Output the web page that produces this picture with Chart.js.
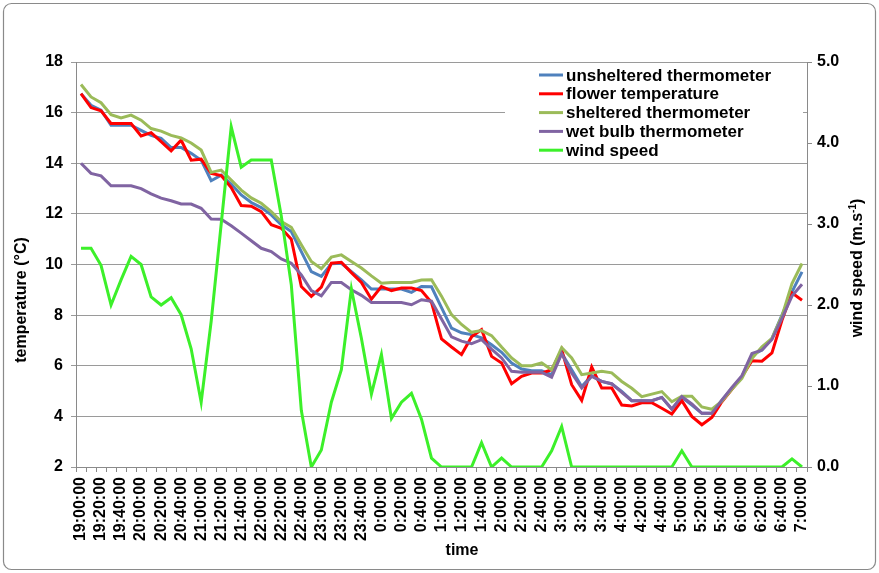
<!DOCTYPE html>
<html><head><meta charset="utf-8">
<script src="https://cdn.jsdelivr.net/npm/chart.js@4.4.1/dist/chart.umd.min.js"></script>
<style>html,body{margin:0;padding:0;background:#fff}#wrap{width:879px;height:573px;position:relative}</style>
</head><body><div id="wrap"><canvas id="c" width="879" height="573"></canvas></div>
<script>
const timeLabels = [
"19:00:00","19:10:00","19:20:00","19:30:00","19:40:00","19:50:00",
"20:00:00","20:10:00","20:20:00","20:30:00","20:40:00","20:50:00",
"21:00:00","21:10:00","21:20:00","21:30:00","21:40:00","21:50:00",
"22:00:00","22:10:00","22:20:00","22:30:00","22:40:00","22:50:00",
"23:00:00","23:10:00","23:20:00","23:30:00","23:40:00","23:50:00",
"0:00:00","0:10:00","0:20:00","0:30:00","0:40:00","0:50:00",
"1:00:00","1:10:00","1:20:00","1:30:00","1:40:00","1:50:00",
"2:00:00","2:10:00","2:20:00","2:30:00","2:40:00","2:50:00",
"3:00:00","3:10:00","3:20:00","3:30:00","3:40:00","3:50:00",
"4:00:00","4:10:00","4:20:00","4:30:00","4:40:00","4:50:00",
"5:00:00","5:10:00","5:20:00","5:30:00","5:40:00","5:50:00",
"6:00:00","6:10:00","6:20:00","6:30:00","6:40:00","6:50:00",
"7:00:00"];
const unsheltered = [16.75,16.29,16.1,15.5,15.5,15.5,15.3,15.1,14.98,14.62,14.62,14.39,14.12,13.31,13.53,13.18,12.75,12.45,12.25,11.96,11.57,11.3,10.51,9.72,9.53,10.03,10.05,9.72,9.39,9.03,9.03,9.03,9.03,8.9,9.13,9.12,8.3,7.49,7.3,7.23,7.1,6.83,6.53,6.11,5.87,5.8,5.8,5.65,6.5,5.84,5.18,5.61,5.38,5.28,4.99,4.62,4.62,4.62,4.75,4.28,4.75,4.45,4.12,4.12,4.64,5.11,5.57,6.42,6.62,7.08,8.0,8.92,9.71];
const flower = [16.75,16.2,16.07,15.57,15.57,15.57,15.08,15.21,14.85,14.49,14.91,14.12,14.16,13.6,13.51,13.04,12.33,12.3,12.09,11.57,11.43,11.0,9.13,8.74,9.11,10.05,10.09,9.68,9.29,8.63,9.13,8.97,9.07,9.07,8.97,8.5,7.06,6.74,6.44,7.14,7.43,6.37,6.11,5.29,5.58,5.71,5.71,5.84,6.64,5.25,4.63,5.95,5.12,5.12,4.45,4.41,4.54,4.54,4.32,4.09,4.62,4.0,3.67,3.96,4.58,5.07,5.57,6.2,6.18,6.51,7.8,8.88,8.59];
const sheltered = [17.11,16.62,16.39,15.92,15.79,15.9,15.7,15.37,15.27,15.1,15.0,14.8,14.52,13.64,13.73,13.34,12.94,12.63,12.42,12.09,11.7,11.47,10.78,10.12,9.83,10.29,10.38,10.12,9.86,9.55,9.26,9.29,9.29,9.29,9.39,9.4,8.75,8.02,7.63,7.32,7.39,7.19,6.74,6.31,6.0,6.0,6.11,5.84,6.72,6.31,5.65,5.71,5.78,5.72,5.38,5.11,4.78,4.88,4.98,4.58,4.8,4.8,4.37,4.28,4.6,5.07,5.5,6.29,6.75,7.08,7.96,9.25,10.04];
const wetBulb = [14.0,13.6,13.5,13.11,13.11,13.11,13.0,12.79,12.62,12.52,12.39,12.39,12.22,11.8,11.79,11.53,11.24,10.94,10.64,10.51,10.22,10.05,9.59,8.97,8.76,9.29,9.29,9.0,8.78,8.5,8.5,8.5,8.5,8.41,8.61,8.55,7.85,7.14,6.97,6.87,7.03,6.66,6.31,5.78,5.74,5.74,5.74,5.55,6.48,5.71,5.12,5.58,5.38,5.29,4.95,4.62,4.62,4.62,4.75,4.29,4.78,4.49,4.12,4.12,4.64,5.14,5.61,6.49,6.62,7.04,7.87,8.75,9.22];
const windSpeed = [2.7,2.7,2.49,2.0,2.31,2.6,2.5,2.1,2.0,2.09,1.88,1.46,0.8,1.8,3.0,4.2,3.7,3.79,3.79,3.79,3.1,2.25,0.7,0,0.21,0.8,1.2,2.2,1.59,0.9,1.39,0.6,0.8,0.91,0.59,0.11,0,0,0,0,0.3,0,0.11,0,0,0,0,0.2,0.5,0,0,0,0,0,0,0,0,0,0,0,0.2,0,0,0,0,0,0,0,0,0,0,0.1,0];
const seriesNames = ["unsheltered thermometer","flower temperature","sheltered thermometer","wet bulb thermometer","wind speed"];
const seriesColors = ["#4F81BD","#FF0000","#9BBB59","#8064A2","#3CF02A"];

const FONT = "'Liberation Sans', Arial, sans-serif";

const frame = {
  id: 'frame',
  beforeDraw(chart) {
    const c = chart.ctx;
    c.save();
    c.fillStyle = '#fff';
    c.fillRect(0, 0, chart.width, chart.height);
    c.strokeStyle = '#8a8a8a';
    c.lineWidth = 1.2;
    c.beginPath();
    c.roundRect(3.5, 3.5, chart.width - 7, chart.height - 7, 8);
    c.stroke();
    c.restore();
  }
};

const legendBox = {
  id: 'legendBox',
  afterDatasetsDraw(chart) {
    const c = chart.ctx;
    c.save();
    c.fillStyle = '#fff';
    c.fillRect(505, 63.5, 298, 97);
    c.font = 'bold 17px ' + FONT;
    c.textBaseline = 'middle';
    c.textAlign = 'left';
    seriesNames.forEach((n, i) => {
      const y = 75 + i * 18.8;
      c.strokeStyle = seriesColors[i];
      c.lineWidth = 3;
      c.beginPath();
      c.moveTo(539, y);
      c.lineTo(563, y);
      c.stroke();
      c.fillStyle = '#000';
      c.fillText(n, 566, y + 1);
    });
    c.restore();
  }
};

const titles = {
  id: 'titles',
  afterDraw(chart) {
    const c = chart.ctx;
    c.save();
    c.fillStyle = '#000';
    c.font = 'bold 16px ' + FONT;
    c.textAlign = 'center';
    c.textBaseline = 'middle';
    c.fillText('time', 462, 551);
    c.save();
    c.translate(22, 300);
    c.rotate(-Math.PI / 2);
    c.fillText('temperature (\u00B0C)', 0, 0);
    c.restore();
    c.save();
    c.translate(858, 268);
    c.rotate(-Math.PI / 2);
    const p1 = 'wind speed (m.s', sup = '-1', p3 = ')';
    c.font = 'bold 16px ' + FONT;
    const w1 = c.measureText(p1).width, w3 = c.measureText(p3).width;
    c.font = 'bold 10px ' + FONT;
    const w2 = c.measureText(sup).width;
    let x = -(w1 + w2 + w3) / 2;
    c.textAlign = 'left';
    c.font = 'bold 16px ' + FONT;
    c.fillText(p1, x, 0); x += w1;
    c.font = 'bold 10px ' + FONT;
    c.fillText(sup, x, -5); x += w2;
    c.font = 'bold 16px ' + FONT;
    c.fillText(p3, x, 0);
    c.restore();
    c.restore();
  }
};

const mk = (label, data, color, axis, order) => ({
  label, data, borderColor: color, backgroundColor: color, yAxisID: axis,
  borderWidth: 3, pointRadius: 0, tension: 0, order, fill: false
});

new Chart(document.getElementById('c'), {
  type: 'line',
  data: {
    labels: timeLabels,
    datasets: [
      mk(seriesNames[0], unsheltered, seriesColors[0], 'y', 4),
      mk(seriesNames[1], flower, seriesColors[1], 'y', 3),
      mk(seriesNames[2], sheltered, seriesColors[2], 'y', 2),
      mk(seriesNames[3], wetBulb, seriesColors[3], 'y', 1),
      mk(seriesNames[4], windSpeed, seriesColors[4], 'y1', 0)
    ]
  },
  options: {
    responsive: false,
    animation: false,
    layout: { padding: { top: 62, left: 0, right: 0, bottom: 0 } },
    plugins: { legend: { display: false }, tooltip: { enabled: false } },
    scales: {
      x: {
        type: 'category',
        offset: true,
        grid: { display: true, drawOnChartArea: false, offset: true, tickLength: 5, color: '#8a8a8a' },
        border: { display: true, color: '#8a8a8a', width: 1 },
        ticks: {
          autoSkip: false, minRotation: 90, maxRotation: 90, padding: 5,
          color: '#000', font: { family: FONT, size: 16, weight: 'bold' },
          callback: function (v, i) { return i % 2 === 0 ? this.getLabelForValue(v) : ''; }
        },
        afterFit(s) { s.height = 106; }
      },
      y: {
        position: 'left', min: 2, max: 18,
        grid: { color: '#9a9a9a', tickLength: 5, lineWidth: 1 },
        border: { display: true, color: '#8a8a8a' },
        ticks: { stepSize: 2, padding: 8, color: '#000', font: { family: FONT, size: 16, weight: 'bold' } },
        afterFit(s) { s.width = 76; }
      },
      y1: {
        position: 'right', min: 0, max: 5,
        grid: { drawOnChartArea: false, tickLength: 5, color: '#8a8a8a' },
        border: { display: true, color: '#8a8a8a' },
        ticks: { stepSize: 1, padding: 5, color: '#000', font: { family: FONT, size: 16, weight: 'bold' },
          callback: v => Number(v).toFixed(1) },
        afterFit(s) { s.width = 72; }
      }
    }
  },
  plugins: [frame, legendBox, titles]
});
</script></body></html>
